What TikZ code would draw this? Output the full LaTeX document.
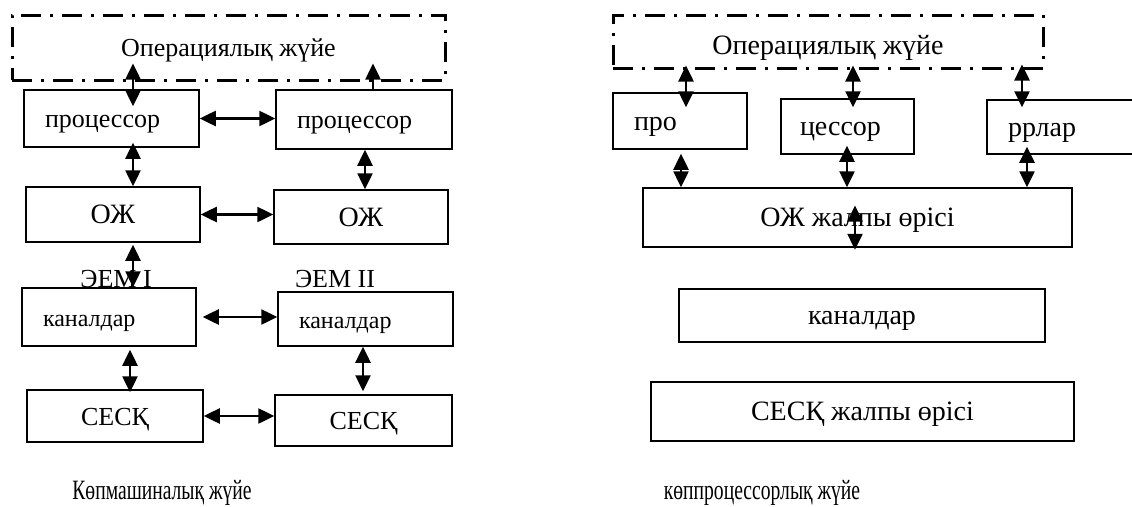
\documentclass[tikz,border=0pt]{standalone}
\usepackage{fontspec}
\setmainfont{Liberation Serif}
\newfontfamily\narrowfont{Liberation Serif}[FakeStretch=0.7]
\usetikzlibrary{arrows.meta, positioning, calc}

\begin{document}
\begin{tikzpicture}[x=1pt, y=-1pt, font=\fontsize{26}{30}\selectfont,
        capmid/.style={text height=18pt, text depth=0pt},
        box/.style={draw, line width=1.5pt, inner sep=0pt, capmid},
        lbox/.style={box, inner xsep=21pt, align=left},
        osbox/.style={draw, line width=3pt, dash pattern=on 20pt off 9pt on 3pt off 9pt, inner sep=0pt, capmid},
        bigtxt/.style={font=\fontsize{28}{32}\selectfont},
        smalltxt/.style={font=\fontsize{24}{28}\selectfont},
        captxt/.style={font=\narrowfont\fontsize{28}{32}\selectfont, anchor=base},
        dbl/.style={{Triangle[length=16pt,width=15pt]}-{Triangle[length=16pt,width=15pt]}, line width=2.5pt},
        sgl/.style={-{Triangle[length=16pt,width=15pt]}, line width=2.5pt}]

    \useasboundingbox (0,0) rectangle (1132,506);

    % columns of the vertical arrows
    \foreach \n/\x in {cA/133, cB/373, cC/365, cD/130, cE/363,
                       rA/686, rB/853, rC/1022, rD/681, rE/847, rF/1027, rM/855}
        \coordinate (\n) at (\x,0);

    % many-machine system
    \node[osbox, minimum width=433pt, minimum height=65pt] (osL) at (228.5,47.5) {Операциялық жүйе};
    \node[lbox, text width=133pt, minimum height=57pt] (prA) at (111.5,118.5) {процессор};
    \node[lbox, text width=134pt, minimum height=59pt] (prB) at (364,119.5) {процессор};
    \node[box, bigtxt, minimum width=174pt, minimum height=55pt] (ozA) at (113,214.5) {ОЖ};
    \node[box, bigtxt, minimum width=174pt, minimum height=54pt] (ozB) at (361,217) {ОЖ};
    \node[capmid] (emA) at (116,278) {ЭЕМ I};
    \node[capmid] (emB) at (335,278) {ЭЕМ II};
    \node[lbox, smalltxt, text width=132pt, minimum height=58pt] (kaA) at (109,317) {каналдар};
    \node[lbox, smalltxt, text width=133pt, minimum height=54pt] (kaB) at (365.5,319) {каналдар};
    \node[box, minimum width=176pt, minimum height=52pt] (seA) at (115,416) {СЕСҚ};
    \node[box, minimum width=177pt, minimum height=51pt] (seB) at (363.5,420.5) {СЕСҚ};
    \node[captxt] (capL) at (162,499) {Көпмашиналық жүйе};

    \draw[dbl, shorten <=-18pt, shorten >=-17pt] (osL.south -| cA) -- (prA.north -| cA);
    \draw[sgl, shorten >=-18pt] (prB.north -| cB) -- (osL.south -| cB);
    \draw[dbl, shorten <=-5pt] (prA.south -| cA) -- (ozA.north -| cA);
    \draw[dbl] (prB.south -| cC) -- (ozB.north -| cC);
    \draw[dbl, shorten <=2pt] (ozA.south -| cA) -- (kaA.north -| cA);
    \draw[dbl, shorten <=3pt, shorten >=-3pt] (kaA.south -| cD) -- (seA.north -| cD);
    \draw[dbl, shorten >=3pt] (kaB.south -| cE) -- (seB.north -| cE);
    \foreach \a/\b in {prA/prB, ozA/ozB, seA/seB}
        \draw[dbl] (\a.east) -- (\a.east -| \b.west);
    \draw[dbl, shorten <=6pt] (kaA.east) -- (kaA.east -| kaB.west);

    % multiprocessor system
    \node[osbox, bigtxt, text height=25pt, minimum width=430pt, minimum height=53pt] (osR) at (828,41.5) {Операциялық жүйе};
    \node[lbox, bigtxt, text width=92pt, minimum height=56pt] (pro) at (680,121) {про};
    \node[lbox, bigtxt, inner xsep=19pt, text width=95pt, minimum height=55pt] (tses) at (847.5,126.5) {цессор};
    \node[lbox, bigtxt, text width=116pt, minimum height=54pt] (rrl) at (1066,127) {ррлар};
    \node[box, bigtxt, minimum width=429pt, minimum height=59pt] (ozR) at (857.5,217.5) {ОЖ жалпы өрісі};
    \node[box, bigtxt, minimum width=366pt, minimum height=53pt] (kaR) at (862,315.5) {каналдар};
    \node[box, bigtxt, minimum width=423pt, minimum height=59pt] (seR) at (862.5,411.5) {СЕСҚ жалпы өрісі};
    \node[captxt] (capR) at (762,499) {көппроцессорлық жүйе};

    \draw[dbl, shorten <=-4pt, shorten >=-15pt] (osR.south -| rA) -- (pro.north -| rA);
    \draw[dbl, shorten <=-4pt, shorten >=-9pt] (osR.south -| rB) -- (tses.north -| rB);
    \draw[dbl, shorten <=-5pt, shorten >=-8pt] (osR.south -| rC) -- (rrl.north -| rC);
    \draw[dbl, shorten <=4pt] (pro.south -| rD) -- (ozR.north -| rD);
    \draw[dbl, shorten <=-9pt] (tses.south -| rE) -- (ozR.north -| rE);
    \draw[dbl, shorten <=-8pt] (rrl.south -| rF) -- (ozR.north -| rF);
    \draw[dbl, shorten >=-2pt] ([yshift=12pt]ozR.center -| rM) -- (ozR.south -| rM);
\end{tikzpicture}
\end{document}
